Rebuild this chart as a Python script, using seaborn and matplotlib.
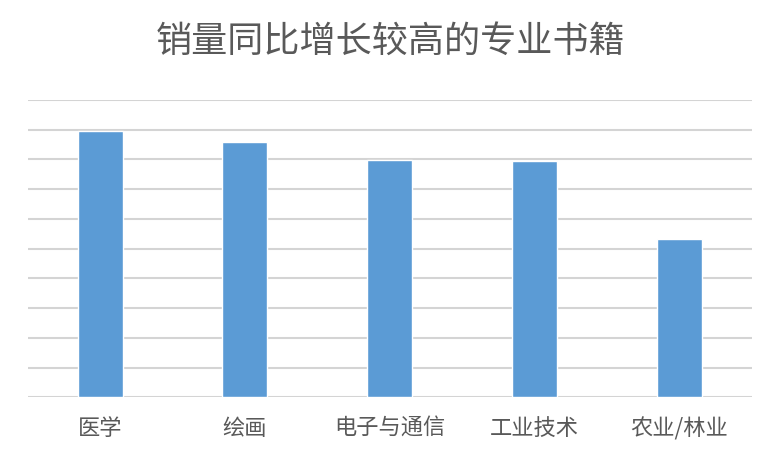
import matplotlib
matplotlib.use('Agg')
import matplotlib.pyplot as plt
import seaborn as sns
import pandas as pd

sns.set_theme(style='white')
plt.rcParams['font.family'] = ['Noto Sans CJK SC', 'DejaVu Sans']

categories = ['医学', '绘画', '电子与通信', '工业技术', '农业/林业']
values = [8.97, 8.59, 7.99, 7.96, 5.32]
title = '销量同比增长较高的专业书籍'

df = pd.DataFrame({'cat': categories, 'val': values})

fig = plt.figure(figsize=(7.8, 4.57), dpi=100)
ax = fig.add_axes([0.0354, 0.1306, 0.9287, 0.6506])

sns.barplot(data=df, x='cat', y='val', color='#5B9BD5', saturation=1,
            width=0.31, ax=ax, zorder=3)

ax.set_ylim(0, 10)
ax.set_xlim(-0.5, len(categories) - 0.5)
ax.set_yticks(range(0, 11))
ax.yaxis.grid(True, color='#D4D4D4', linewidth=1.5, zorder=0)
ax.set_axisbelow(True)
ax.tick_params(axis='y', left=False, labelleft=False)
ax.tick_params(axis='x', bottom=False, labelsize=16, labelcolor='#595959', pad=8)
for s in ax.spines.values():
    s.set_visible(False)
ax.set_xlabel('')
ax.set_ylabel('')

fig.text(0.5, 1 - 42 / 457, title, ha='center', va='center',
         fontsize=26, color='#595959')

fig.savefig('out.png', dpi=100)
